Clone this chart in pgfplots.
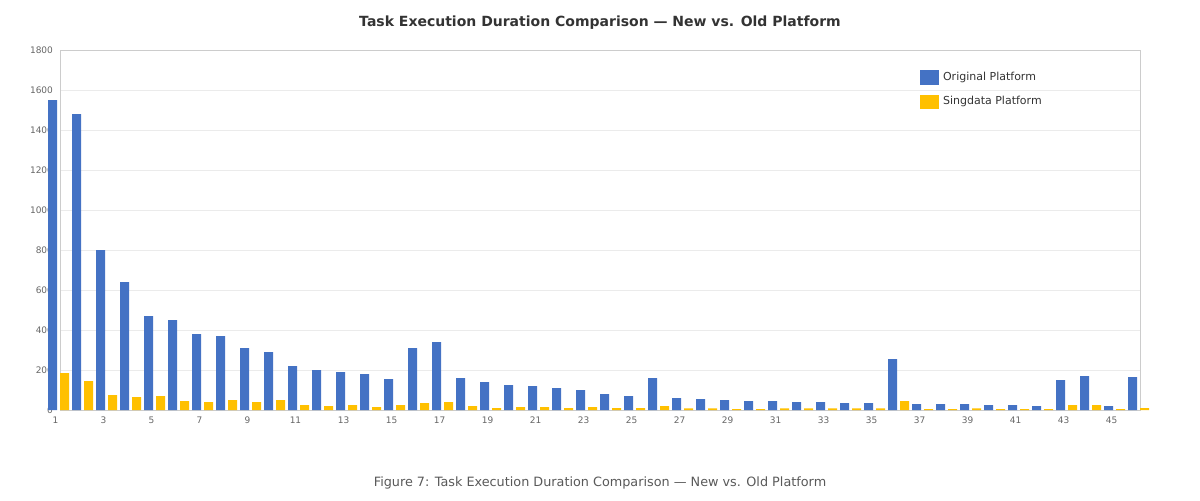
\documentclass[border=0pt]{standalone}
\usepackage{pgfplots}
\pgfplotsset{compat=1.18}
\usepackage{fontspec}
\setmainfont{DejaVu Sans}
\definecolor{cblue}{HTML}{4472C4}
\definecolor{cyel}{HTML}{FFC000}
\definecolor{ctitle}{HTML}{333333}
\definecolor{ccap}{HTML}{595959}
\definecolor{ctick}{HTML}{666666}
\definecolor{cgrid}{HTML}{EBEBEB}
\definecolor{caxis}{HTML}{CCCCCC}
\begin{document}
\begin{tikzpicture}
\path (0,0) rectangle (600pt,250pt);
\node[text=ctitle,font=\bfseries\fontsize{7pt}{8pt}\selectfont] at (300pt,238.5pt) {Task Execution Duration Comparison — New vs. Old Platform};
\node[text=ccap,font=\fontsize{6.4pt}{7.5pt}\selectfont] at (300pt,8.5pt) {Figure 7: Task Execution Duration Comparison — New vs. Old Platform};
\begin{axis}[
  at={(30pt,45pt)}, anchor=south west,
  scale only axis, width=540pt, height=180pt,
  set layers,
  clip=false,
  xmin=1, xmax=46, ymin=0, ymax=1800,
  ytick={0,200,...,1800},
  xtick={1,3,...,45},
  major tick length=0pt,
  ymajorgrids, grid style={draw=cgrid, line width=0.5pt},
  x axis line style={draw=none},
  y axis line style={draw=caxis, line width=0.5pt},
  /pgf/number format/assume math mode=true,
  /pgf/number format/1000 sep={},
  yticklabel style={font=\fontsize{4.5pt}{5pt}\selectfont, text=ctick},
  xticklabel style={font=\fontsize{4.5pt}{5pt}\selectfont, text=ctick, xshift=-2.25pt},
  ybar, bar width=4.5pt,
  legend style={at={(0.796,0.952)}, anchor=north west, draw=none, fill=none, inner sep=0pt,
    font=\fontsize{5.5pt}{6.5pt}\selectfont, text=ctitle, row sep=2.5pt,
    cells={anchor=west}},
  legend image code/.code={\fill[#1] (0pt,-3.6pt) rectangle (9.5pt,3.6pt);},
]
\addplot[fill=cblue, draw=none, bar shift=-3.75pt] coordinates {
(1,1550) (2,1480) (3,800) (4,640) (5,470) (6,450) (7,380) (8,370) (9,310) (10,290)
(11,220) (12,200) (13,190) (14,180) (15,155) (16,310) (17,340) (18,160) (19,140) (20,125)
(21,120) (22,110) (23,100) (24,80) (25,70) (26,160) (27,60) (28,55) (29,50) (30,45)
(31,45) (32,40) (33,40) (34,35) (35,35) (36,255) (37,30) (38,30) (39,30) (40,25)
(41,25) (42,20) (43,150) (44,170) (45,20) (46,165)};
\addlegendentry{Original Platform}
\addplot[fill=cyel, draw=none, bar shift=2.25pt] coordinates {
(1,185) (2,145) (3,75) (4,65) (5,70) (6,45) (7,40) (8,50) (9,40) (10,50)
(11,25) (12,20) (13,25) (14,15) (15,25) (16,35) (17,40) (18,20) (19,10) (20,15)
(21,15) (22,10) (23,15) (24,10) (25,10) (26,20) (27,8) (28,8) (29,4) (30,4)
(31,8) (32,8) (33,8) (34,8) (35,8) (36,45) (37,4) (38,4) (39,8) (40,4)
(41,4) (42,4) (43,25) (44,25) (45,4) (46,10)};
\addlegendentry{Singdata Platform}
\end{axis}
\end{tikzpicture}
\end{document}
